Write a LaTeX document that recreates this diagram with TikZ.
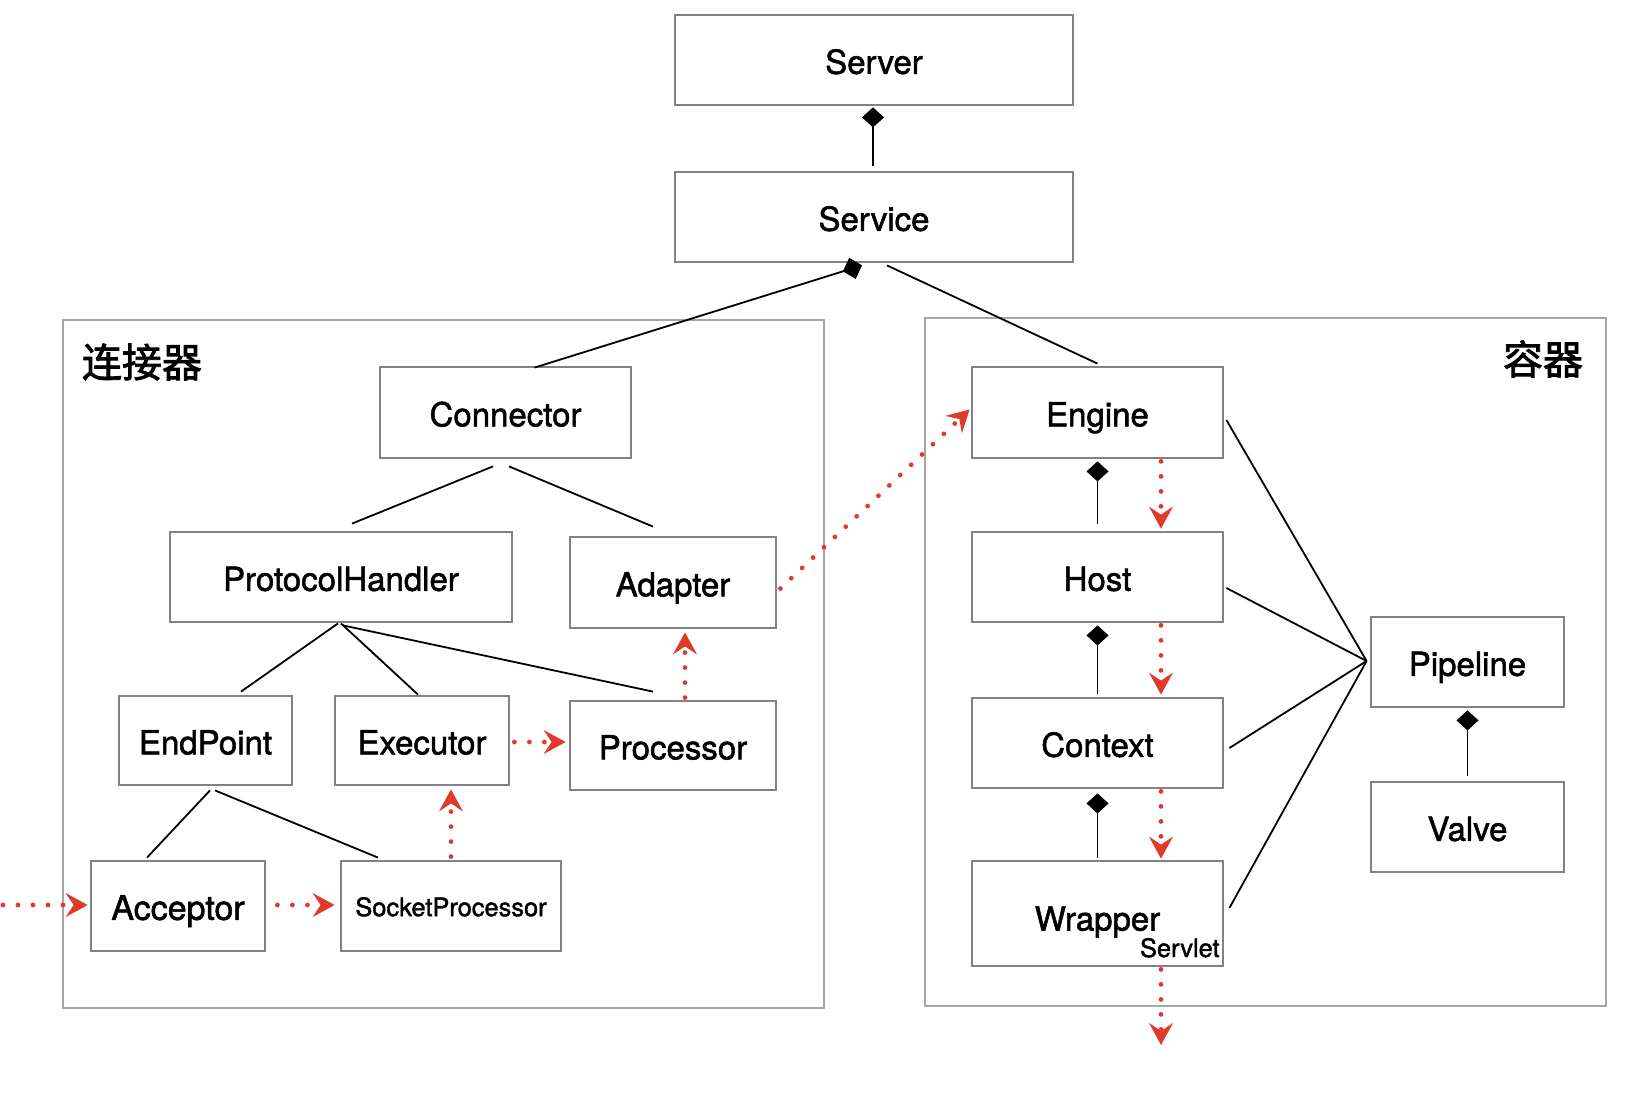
\documentclass[tikz,border=0pt]{standalone}
\usepackage{fontspec}
\setmainfont{TeX Gyre Heros}[FakeBold=1.6]
\newfontfamily\cjk{Noto Sans CJK SC}[FakeBold=2]
\usetikzlibrary{arrows.meta,calc}
\definecolor{boxgray}{HTML}{828282}
\definecolor{framegray}{HTML}{A6A6A6}
\definecolor{flowred}{HTML}{E03A2B}

\begin{document}
\begin{tikzpicture}[x=0.5pt,y=-0.5pt,
  box/.style={draw=boxgray, line width=1.4pt, fill=white, inner sep=0pt,
    text height=16.5pt, text depth=2.7pt,
    font=\fontsize{16.5pt}{20pt}\selectfont},
  smalltext/.style={font=\fontsize{12.7pt}{15pt}\selectfont},
  frame/.style={draw=framegray, line width=0.7pt, inner sep=0pt},
  title/.style={font=\cjk\fontsize{20pt}{24pt}\selectfont, inner sep=0pt},
  link/.style={black, line width=0.9pt},
  comp/.style={link, {Diamond[length=10pt,width=11pt,line width=0.4pt]}-},
  flow/.style={flowred, line width=2.4pt, line cap=round,
    dash pattern=on 0pt off 7.5pt,
    -{Stealth[length=11pt,width=12pt,inset=4pt,line width=0.5pt]}},
]
\useasboundingbox (0,0) rectangle (1646,1098);

% group frames
\node[frame, minimum width=380.5pt, minimum height=344pt] (connframe) at (443.5,664) {};
\node[frame, minimum width=340.5pt, minimum height=344pt] (contframe) at (1265.5,662) {};
\node[title] (conntitle) at (142,362) {连接器};
\node[title] (conttitle) at (1543,359) {容器};

% top level
\node[box, minimum width=199pt, minimum height=45pt] (server) at (874,60) {Server};
\node[box, minimum width=199pt, minimum height=45pt] (service) at (874,217) {Service};

% connector side
\node[box, minimum width=125.5pt, minimum height=45.5pt] (connector) at (505.5,412.5) {Connector};
\node[box, minimum width=171pt, minimum height=45pt] (protocol) at (341,577) {ProtocolHandler};
\node[box, minimum width=103pt, minimum height=45.5pt] (adapter) at (673,582.5) {Adapter};
\node[box, minimum width=86.5pt, minimum height=44.5pt] (endpoint) at (205.5,740.5) {EndPoint};
\node[box, minimum width=87pt, minimum height=44.5pt] (executor) at (422,740.5) {Executor};
\node[box, minimum width=103pt, minimum height=44.5pt] (processor) at (673,745.5) {Processor};
\node[box, minimum width=87pt, minimum height=45pt, font=\fontsize{17pt}{20pt}\selectfont] (acceptor) at (178,906) {Acceptor};
\node[box, minimum width=110pt, minimum height=45pt, smalltext, text height=12pt, text depth=1.9pt] (socketproc) at (451,906) {SocketProcessor};

% container side
\node[box, minimum width=125.5pt, minimum height=45.5pt] (engine) at (1097.5,412.5) {Engine};
\node[box, minimum width=125.5pt, minimum height=45pt] (host) at (1097.5,577) {Host};
\node[box, minimum width=125.5pt, minimum height=45pt] (context) at (1097.5,743) {Context};
\node[box, minimum width=125.5pt, minimum height=52.5pt] (wrapper) at (1097.5,913.5) {\raisebox{-1.6pt}{Wrapper}};
\node[smalltext, inner sep=0pt, anchor=base east] (servlet) at (1220,957) {Servlet};
\node[box, minimum width=96.5pt, minimum height=45pt] (pipeline) at (1467.5,662) {Pipeline};
\node[box, minimum width=96.5pt, minimum height=45pt] (valve) at (1467.5,827) {Valve};

% composition links
\draw[comp] ($(server.south)+(-1,1)$) -- ($(service.north)+(-1,-5)$);
\draw[comp] ($(service.south)+(-12,2)$) -- ($(connector.north)+(29,2)$);
\draw[link] ($(service.south)+(13,2)$) -- ($(engine.north)+(0,-2)$);
\draw[comp] ($(engine.south)+(0,2)$) -- ($(host.north)+(0,-7)$);
\draw[comp] ($(host.south)+(0,2)$) -- ($(context.north)+(0,-3)$);
\draw[comp] ($(context.south)+(0,4)$) -- ($(wrapper.north)+(0,-2)$);
\draw[comp] ($(pipeline.south)+(0,2)$) -- ($(valve.north)+(0,-5)$);

% plain associations
\draw[link] ($(connector.south)+(-12.5,7)$) -- ($(protocol.north)+(11,-7)$);
\draw[link] ($(connector.south)+(3.5,7)$) -- ($(adapter.north)+(-20,-9)$);
\draw[link] ($(protocol.south)+(-3,0)$) -- ($(endpoint.north)+(35.5,-3)$);
\draw[link] ($(protocol.south)+(0,0)$) -- ($(executor.north)+(-4,0)$);
\draw[link] ($(protocol.south)+(2,2)$) -- ($(processor.north)+(-20,-8)$);
\draw[link] ($(endpoint.south)+(4.5,4)$) -- ($(acceptor.north)+(-31,-2)$);
\draw[link] ($(endpoint.south)+(9.5,4)$) -- ($(socketproc.north)+(-73,-2)$);

\coordinate (pipein) at ($(pipeline.west)+(-3,-1)$);
\draw[link] ($(engine.east)+(2,7.5)$) -- (pipein);
\draw[link] ($(host.east)+(2,11)$) -- (pipein);
\draw[link] ($(context.east)+(5,5)$) -- (pipein);
\draw[link] ($(wrapper.east)+(5,-5.5)$) -- (pipein);

% request flow
\coordinate (incoming) at (3,905);
\coordinate (outgoing) at (1161,1045);
\draw[flow] (incoming) -- ($(acceptor.west)+(-2,-1)$);
\draw[flow] ($(acceptor.east)+(11,-1)$) -- ($(socketproc.west)+(-5,-1)$);
\draw[flow] ($(socketproc.north)+(0,-3)$) -- ($(socketproc.north |- executor.south)+(0,3)$);
\draw[flow] ($(executor.east)+(4,1.5)$) -- ($(processor.west |- executor.east)+(-3,1.5)$);
\draw[flow] ($(processor.north)+(12,-2)$) -- ($(adapter.south)+(12,3)$);
\draw[flow] ($(adapter.east)+(3,6)$) -- ($(engine.west)+(-1,-3)$);
\draw[flow] ($(engine.south)+(63.5,2)$) -- ($(host.north)+(63.5,-2)$);
\draw[flow] ($(host.south)+(63.5,2)$) -- ($(context.north)+(63.5,-2)$);
\draw[flow] ($(context.south)+(63.5,2)$) -- ($(wrapper.north)+(63.5,-1)$);
\draw[flow] ($(wrapper.south)+(63.5,2)$) -- (outgoing);
\end{tikzpicture}
\end{document}
